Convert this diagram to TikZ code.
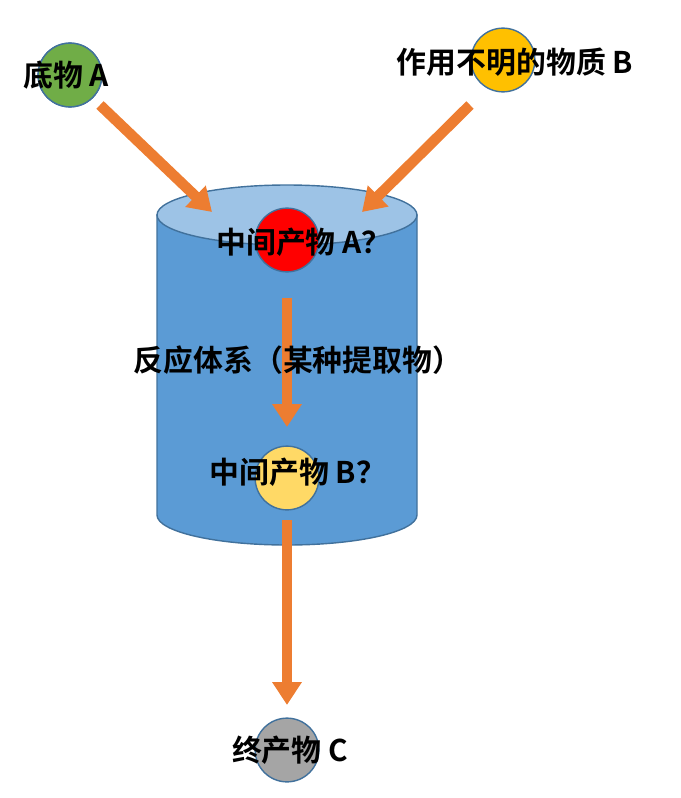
\documentclass[tikz,border=0pt]{standalone}
\usepackage{fontspec}
\setmainfont{Noto Sans CJK SC}[BoldFont={* Bold}]
\usetikzlibrary{arrows.meta}
\definecolor{org}{HTML}{ED7D31}
\definecolor{cylbody}{HTML}{5B9BD5}
\definecolor{cyltop}{HTML}{9DC3E6}
\definecolor{cyledge}{HTML}{41719C}
\tikzset{
  ball/.style={circle,minimum size=64*0.567pt,inner sep=0pt,draw=cyledge,line width=0.8pt},
  lbl/.style={font=\bfseries\fontsize{17}{20}\selectfont,inner sep=0pt},
  flow/.style={draw=org,line width=6pt,-{Triangle[width=16pt,length=13pt]}}
}
\begin{document}
\begin{tikzpicture}[x=0.02cm,y=-0.02cm]
\useasboundingbox (0,0) rectangle (680,798);
% cylinder
\fill[cylbody,draw=cyledge,line width=0.8pt] (157,215) -- (157,515) arc[start angle=180,end angle=360,x radius=130,y radius=-30] -- (417,215) -- cycle;
\fill[cyltop,draw=cyledge,line width=0.8pt] (287,215) ellipse[x radius=130,y radius=30];
% balls
\node[ball,fill=green!50!black!60!lime] (ga) at (70,75) {};
\node[ball,fill={rgb,255:red,112;green,173;blue,71}] (ga2) at (70,75) {};
\node[ball,fill={rgb,255:red,255;green,192;blue,0}] (yb) at (503,60) {};
\node[ball,fill=red] (ra) at (287,240) {};
\node[ball,fill={rgb,255:red,255;green,217;blue,102}] (yc) at (287,478) {};
\node[ball,fill={rgb,255:red,165;green,165;blue,165}] (gc) at (287,750) {};
% arrow anchors
\coordinate (a1s) at (100,105); \coordinate (a1e) at (212,212);
\coordinate (a2s) at (470,105); \coordinate (a2e) at (362,212);
\coordinate (a3s) at (287,298); \coordinate (a3e) at (287,427);
\coordinate (a4s) at (287,520); \coordinate (a4e) at (287,705);
\draw[flow] (a1s) -- (a1e);
\draw[flow] (a2s) -- (a2e);
\draw[flow] (a3s) -- (a3e);
\draw[flow] (a4s) -- (a4e);
% labels
\node[lbl] (t1) at (66,75) {底物 A};
\node[lbl] (t2) at (515,62) {作用不明的物质 B};
\node[lbl] (t3) at (304,242) {中间产物 A？};
\node[lbl] (t4) at (298,360) {反应体系（某种提取物）};
\node[lbl] (t5) at (298,472) {中间产物 B？};
\node[lbl] (t6) at (290,750) {终产物 C};
\end{tikzpicture}
\end{document}
